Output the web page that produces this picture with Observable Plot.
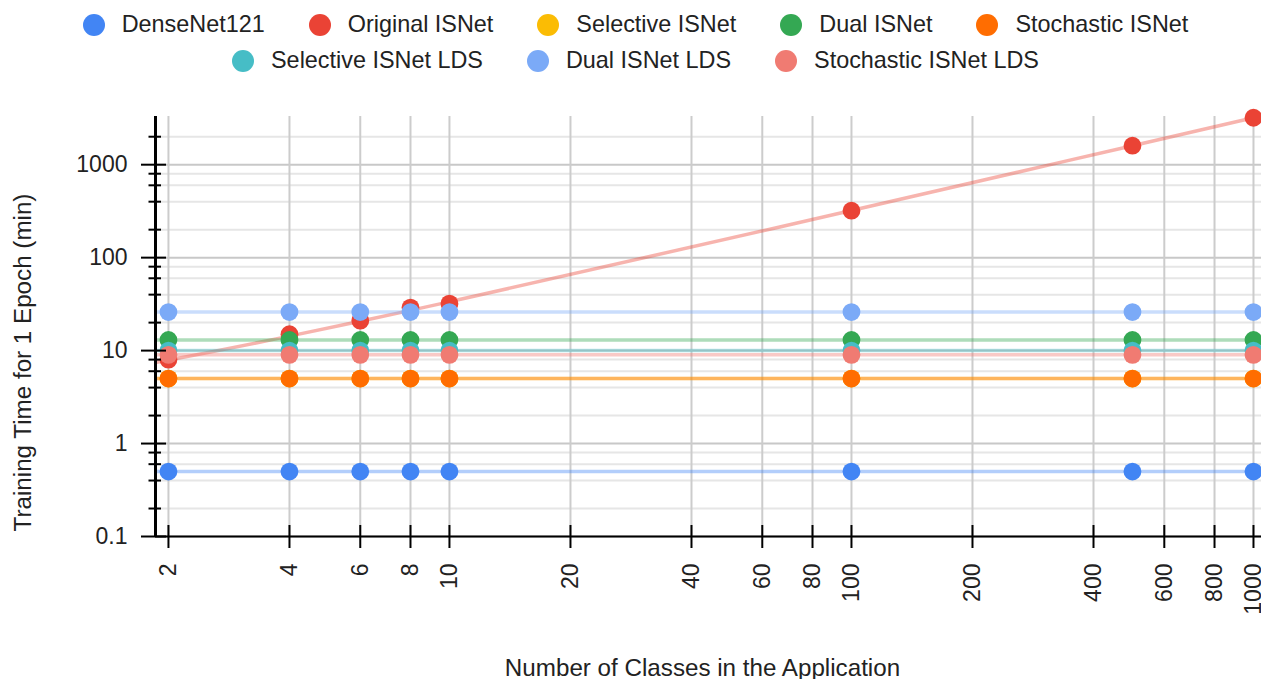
<!DOCTYPE html>
<html><head><meta charset="utf-8">
<script src="https://cdn.jsdelivr.net/npm/d3@7"></script>
<script src="https://cdn.jsdelivr.net/npm/@observablehq/plot@0.6"></script>
<style>
body{margin:0;background:#fff;font-family:"Liberation Sans",Arial,sans-serif;color:#222;}
#legend{height:86px;box-sizing:border-box;padding-top:7px;padding-left:10px;}
.row{display:flex;justify-content:center;align-items:center;height:36px;gap:44px;}
.item{display:flex;align-items:center;gap:17px;font-size:23.4px;white-space:nowrap;line-height:1;}
.sw{width:22px;height:22px;border-radius:50%;flex:none;}
#chart svg{display:block;}
</style></head><body>
<div id="legend"></div><div id="chart"></div>
<script>
// ---- data ----
const classes = [2, 4, 6, 8, 10, 100, 500, 1000];
const seriesNames = ["DenseNet121", "Original ISNet", "Selective ISNet", "Dual ISNet", "Stochastic ISNet",
  "Selective ISNet LDS", "Dual ISNet LDS", "Stochastic ISNet LDS"];
const seriesColors = ["#4285f4", "#ea4335", "#fbbc04", "#34a853", "#ff6d01", "#46bdc6", "#7baaf7", "#f07b72"];
const denseNet121       = [0.5, 0.5, 0.5, 0.5, 0.5, 0.5, 0.5, 0.5];
const originalISNet     = [8, 15, 21, 29, 32, 320, 1600, 3200];
const selectiveISNet    = [5, 5, 5, 5, 5, 5, 5, 5];
const dualISNet         = [13, 13, 13, 13, 13, 13, 13, 13];
const stochasticISNet   = [5, 5, 5, 5, 5, 5, 5, 5];
const selectiveISNetLDS = [10, 10, 10, 10, 10, 10, 10, 10];
const dualISNetLDS      = [26, 26, 26, 26, 26, 26, 26, 26];
const stochasticISNetLDS= [9, 9, 9, 9, 9, 9, 9, 9];
const legendRows = [[0, 1, 2, 3, 4], [5, 6, 7]];
const xTicks = [2, 4, 6, 8, 10, 20, 40, 60, 80, 100, 200, 400, 600, 800, 1000];
const xTickLabels = ["2", "4", "6", "8", "10", "20", "40", "60", "80", "100", "200", "400", "600", "800", "1000"];
const yMajorTicks = [0.1, 1, 10, 100, 1000];
const yTickLabels = ["0.1", "1", "10", "100", "1000"];
const yMinorTicks = [0.2, 0.4, 0.6, 0.8, 2, 4, 6, 8, 20, 40, 60, 80, 200, 400, 600, 800, 2000];
const xDomain = [1.857, 1047];
const yDomain = [0.1, 3300];
const xTitle = "Number of Classes in the Application";
const yTitle = "Training Time for 1 Epoch (min)";

const seriesValues = [denseNet121, originalISNet, selectiveISNet, dualISNet, stochasticISNet,
  selectiveISNetLDS, dualISNetLDS, stochasticISNetLDS];

// points table
const points = [];
seriesValues.forEach((vals, s) => vals.forEach((v, i) => points.push({series: seriesNames[s], cls: classes[i], value: v})));

// linear trendlines (least squares in data space), evaluated at the data's x positions and the view edges
const trend = [];
const xs = [xDomain[0], ...classes, xDomain[1]];
seriesValues.forEach((vals, s) => {
  const mx = d3.mean(classes), my = d3.mean(vals);
  let sxy = 0, sxx = 0;
  classes.forEach((x, i) => { sxy += (x - mx) * (vals[i] - my); sxx += (x - mx) ** 2; });
  const a = sxy / sxx, b = my - a * mx;
  xs.forEach(x => trend.push({series: seriesNames[s], cls: x, value: a * x + b}));
});

// legend
const legend = document.getElementById("legend");
legendRows.forEach(row => {
  const r = document.createElement("div"); r.className = "row";
  row.forEach(i => {
    const it = document.createElement("div"); it.className = "item";
    const sw = document.createElement("span"); sw.className = "sw"; sw.style.background = seriesColors[i];
    const t = document.createElement("span"); t.textContent = seriesNames[i];
    it.append(sw, t); r.append(it);
  });
  legend.append(r);
});

const chart = Plot.plot({
  width: 1261, height: 593,
  marginLeft: 155, marginRight: 0, marginTop: 30, marginBottom: 143,
  style: {fontFamily: '"Liberation Sans", Arial, sans-serif', fontSize: "23px", color: "#222", background: "#fff"},
  x: {type: "log", domain: xDomain},
  y: {type: "log", domain: yDomain},
  color: {domain: seriesNames, range: seriesColors},
  marks: [
    Plot.gridY({ticks: yMinorTicks, stroke: "#e6e6e6", strokeOpacity: 1, strokeWidth: 2}),
    Plot.gridY({ticks: yMajorTicks, stroke: "#c8c8c8", strokeOpacity: 1, strokeWidth: 2}),
    Plot.gridX({ticks: xTicks, stroke: "#cccccc", strokeOpacity: 1, strokeWidth: 2}),
    Plot.line(trend, {x: "cls", y: "value", z: "series", stroke: "series", strokeOpacity: 0.4, strokeWidth: 3.5, curve: "monotone-x", clip: true}),
    Plot.dot(points, {x: "cls", y: "value", fill: "series", r: 8.9}),
    Plot.ruleY([yDomain[0]], {stroke: "#000", strokeWidth: 2}),
    Plot.ruleX([xDomain[0]], {stroke: "#000", strokeWidth: 3}),
    Plot.axisY({ticks: yMinorTicks, tickSize: 12.5, dx: 6, tickFormat: () => "", stroke: "#000", strokeWidth: 2, label: null}),
    Plot.axisY({ticks: yMajorTicks, tickSize: 25, dx: 11, tickPadding: 14, tickFormat: d => yTickLabels[yMajorTicks.indexOf(d)], stroke: "#000", strokeWidth: 2, fill: "#222", label: null}),
    Plot.axisX({ticks: xTicks, tickSize: 23, dy: -11, tickFormat: () => "", stroke: "#000", strokeWidth: 2, label: null}),
    Plot.text(xTicks, {x: d => d, text: (d, i) => xTickLabels[i], frameAnchor: "bottom", dy: 27, rotate: -90, textAnchor: "end", lineAnchor: "middle", fontSize: 23, fill: "#222"}),
    Plot.text([yTitle], {text: d => d, frameAnchor: "left", textAnchor: "middle", dx: -132, dy: 36, rotate: -90, fontSize: 24.2, fill: "#222"}),
    Plot.text([xTitle], {text: d => d, frameAnchor: "bottom", textAnchor: "middle", dx: -6, dy: 139, lineAnchor: "bottom", fontSize: 24.2, fill: "#222"})
  ]
});
document.getElementById("chart").append(chart);
</script>
</body></html>
